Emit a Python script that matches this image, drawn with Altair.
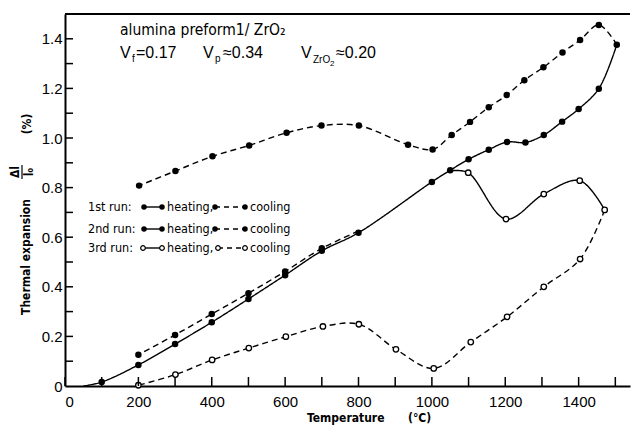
import altair as alt
import pandas as pd

# ---------------- data ----------------
heat1_T = [50, 100, 200, 300, 400, 500, 600, 700, 800, 1000, 1050, 1100, 1155, 1205, 1255, 1305, 1355, 1400, 1455, 1504]
heat1_v = [0.0, 0.016, 0.085, 0.169, 0.257, 0.351, 0.447, 0.545, 0.618, 0.823, 0.870, 0.914, 0.953, 0.984, 0.982, 1.012, 1.066, 1.117, 1.199, 1.376]

cool1_T = [1504, 1455, 1404, 1356, 1304, 1252, 1204, 1155, 1104, 1054, 1002, 935, 801, 699, 604, 502, 402, 301, 202]
cool1_v = [1.376, 1.456, 1.395, 1.345, 1.285, 1.233, 1.173, 1.124, 1.065, 1.012, 0.954, 0.973, 1.05, 1.05, 1.021, 0.970, 0.926, 0.867, 0.808]

cool2_T = [800, 700, 600, 500, 400, 300, 200]
cool2_v = [0.625, 0.555, 0.462, 0.374, 0.290, 0.206, 0.126]

heat3_T = [1054, 1099, 1202, 1305, 1403, 1471]
heat3_v = [0.868, 0.860, 0.673, 0.774, 0.828, 0.710]

cool3_T = [1471, 1404, 1305, 1205, 1106, 1005, 902, 801, 703, 602, 501, 401, 301, 200]
cool3_v = [0.710, 0.512, 0.400, 0.279, 0.177, 0.071, 0.148, 0.249, 0.240, 0.199, 0.153, 0.105, 0.046, 0.003]

x_label_values = [0, 200, 400, 600, 800, 1000, 1200, 1400]
x_tick_values = [0, 100, 200, 300, 400, 500, 600, 700, 800, 900, 1000, 1100, 1200, 1300, 1400, 1500]
y_label_values = [0, 0.2, 0.4, 0.6, 0.8, 1.0, 1.2, 1.4]
y_tick_values = [0.1, 0.2, 0.3, 0.4, 0.5, 0.6, 0.7, 0.8, 0.9, 1.0, 1.1, 1.2, 1.3, 1.4]

# ---------------- build table ----------------
rows = []
def add(series, Ts, vs, style, fill):
    for i, (t, v) in enumerate(zip(Ts, vs)):
        rows.append(dict(series=series, T=t, v=v, order=i, style=style, fill=fill, marker=(i > 0)))

add("heat1", heat1_T, heat1_v, "solid", "filled")
add("cool1", cool1_T, cool1_v, "dashed", "filled")
add("cool2", cool2_T, cool2_v, "dashed", "filled")
add("heat3", heat3_T, heat3_v, "solid", "open")
add("cool3", cool3_T, cool3_v, "dashed", "open")
df = pd.DataFrame(rows)

W, H = 565, 372
COND = "DejaVu Sans Condensed"
NUM = "Liberation Sans"

xsc = alt.Scale(domain=[0, 1540], nice=False, zero=False)
ysc = alt.Scale(domain=[0, 1.5], nice=False, zero=False)

base = alt.Chart(df)

lines = base.mark_line(color="black", strokeWidth=1.4, interpolate="catmull-rom").encode(
    x=alt.X("T:Q", scale=xsc, axis=alt.Axis(values=x_label_values, ticks=False, grid=False,
                                            domainColor="black", domainWidth=2, format="d",
                                            labelFont=NUM, labelFontSize=15, labelColor="black",
                                            labelPadding=8, title=None)),
    y=alt.Y("v:Q", scale=ysc, axis=alt.Axis(values=y_label_values, ticks=False, grid=False,
                                            domainColor="black", domainWidth=2,
                                            labelFont=NUM, labelFontSize=15, labelColor="black",
                                            labelPadding=3, title=None,
                                            labelExpr="datum.value == 0 ? '0' : format(datum.value, '.1f')")),
    detail="series:N",
    order="order:Q",
    strokeDash=alt.StrokeDash("style:N", scale=alt.Scale(domain=["solid", "dashed"], range=[[1, 0], [6, 4]]), legend=None),
)

filled_pts = base.transform_filter("datum.marker && datum.fill == 'filled'").mark_circle(
    color="black", size=42, opacity=1).encode(x="T:Q", y="v:Q")
open_pts = base.transform_filter("datum.marker && datum.fill == 'open'").mark_point(
    shape="circle", size=30, stroke="black", fill="white", fillOpacity=1, strokeWidth=1.3, opacity=1, filled=False
).encode(x="T:Q", y="v:Q")

xticks = alt.Chart(pd.DataFrame({"t": x_tick_values})).mark_rule(color="black", strokeWidth=1.5).encode(
    x=alt.X("t:Q", scale=xsc), y=alt.value(H), y2=alt.value(H - 9))
yticks = alt.Chart(pd.DataFrame({"t": y_tick_values})).mark_rule(color="black", strokeWidth=1.5).encode(
    y=alt.Y("t:Q", scale=ysc), x=alt.value(0), x2=alt.value(8))
top = alt.Chart(pd.DataFrame({"a": [0]})).mark_rule(color="black", strokeWidth=2).encode(
    x=alt.value(0), x2=alt.value(W), y=alt.value(0))

layers = [lines, filled_pts, open_pts, xticks, yticks, top]

# ---------------- text helpers (pixel positions relative to plot origin) ----------------
def txt(s, x, y, size, font=COND, angle=0, align="left", baseline="alphabetic", weight="normal"):
    kw = dict(text=s, font=font, fontSize=size, align=align, baseline=baseline, color="black", fontWeight=weight)
    if angle:
        kw["angle"] = angle
    return alt.Chart(pd.DataFrame({"a": [0]})).mark_text(**kw).encode(x=alt.value(x), y=alt.value(y))

# annotations
layers += [
    txt("alumina preform1/ ZrO₂", 55, 21, 15.5),
    txt("V", 55, 44, 16, NUM), txt("f", 67, 48, 10, NUM), txt("=0.17", 71, 44, 16, NUM),
    txt("V", 138, 44, 16, NUM), txt("p", 150, 48, 10, NUM), txt("≈0.34", 158, 44, 16, NUM),
    txt("V", 236, 44, 16, NUM), txt("ZrO", 248, 49, 10, NUM), txt("2", 265, 52, 8, NUM), txt("≈0.20", 271, 44, 16, NUM),
]

# axis titles
layers += [
    txt("Temperature", 242, 408, 12, weight="bold"),
    txt("(°C)", 343, 408, 12, weight="bold"),
    txt("Thermal expansion", -39, 243, 12, angle=270, align="center", baseline="middle", weight="bold"),
    txt("Δl", -50, 158, 12, angle=270, align="center", baseline="middle", weight="bold"),
    txt("l₀", -36, 158, 12, angle=270, align="center", baseline="middle", weight="bold"),
    txt("(%)", -38, 110, 12, angle=270, align="center", baseline="middle", weight="bold"),
    alt.Chart(pd.DataFrame({"a": [0]})).mark_rule(color="black", strokeWidth=1.2).encode(
        x=alt.value(-43), y=alt.value(151), y2=alt.value(165)),
]

# legend
leg_rows = [("1st run:", 193, "filled", 79, 97, 150, 180),
            ("2nd run:", 215, "filled", 79, 97, 150, 180),
            ("3rd run:", 234, "open", 78, 97, 153, 180)]
for label, yc, kind, s1, s2, d1, d2 in leg_rows:
    layers.append(txt(label, 23, yc + 4, 12.5))
    layers.append(txt("heating,", 102, yc + 4, 12.5))
    layers.append(txt("cooling", 185, yc + 4, 12.5))
    one = pd.DataFrame({"a": [0]})
    layers.append(alt.Chart(one).mark_rule(color="black", strokeWidth=1.4).encode(
        x=alt.value(s1), x2=alt.value(s2), y=alt.value(yc)))
    layers.append(alt.Chart(one).mark_rule(color="black", strokeWidth=1.4, strokeDash=[5, 4]).encode(
        x=alt.value(d1), x2=alt.value(d2), y=alt.value(yc)))
    for px in (s1, s2, d1, d2):
        if kind == "filled":
            layers.append(alt.Chart(one).mark_circle(color="black", size=30, opacity=1).encode(
                x=alt.value(px), y=alt.value(yc)))
        else:
            layers.append(alt.Chart(one).mark_point(shape="circle", size=22, stroke="black", fill="white",
                                                    fillOpacity=1, strokeWidth=1.2, opacity=1).encode(
                x=alt.value(px), y=alt.value(yc)))

chart = alt.layer(*layers).properties(
    width=W, height=H,
    autosize=alt.AutoSizeParams(type="none"),
    padding={"left": 65, "top": 14, "right": 6, "bottom": 42},
    background="white",
).configure_view(stroke=None)

chart.save("out.html", embed_options={"renderer": "svg", "actions": False})
